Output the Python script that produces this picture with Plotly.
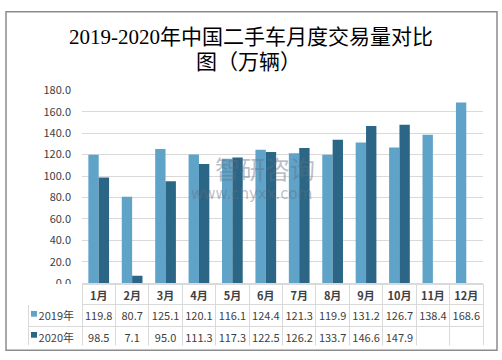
import plotly.graph_objects as go

months = ["1月", "2月", "3月", "4月", "5月", "6月", "7月", "8月", "9月", "10月", "11月", "12月"]
v2019 = [119.8, 80.7, 125.1, 120.1, 116.1, 124.4, 121.3, 119.9, 131.2, 126.7, 138.4, 168.6]
v2020 = [98.5, 7.1, 95.0, 111.3, 117.3, 122.5, 126.2, 133.7, 146.6, 147.9, None, None]
series_names = ["2019年", "2020年"]
yticks = [0, 20, 40, 60, 80, 100, 120, 140, 160, 180]
title_lines = ["2019-2020年中国二手车月度交易量对比", "图（万辆）"]

c2019 = "#5fa3c8"
c2020 = "#2b6686"
W, H = 502, 360

def px_x(x):
    return x / W

def px_y(y):
    return 1 - y / H

fig = go.Figure()
fig.add_trace(go.Bar(x=months, y=v2019, name=series_names[0], marker=dict(color=c2019, line=dict(width=0))))
fig.add_trace(go.Bar(x=months, y=v2020, name=series_names[1], marker=dict(color=c2020, line=dict(width=0))))

def fmt(v):
    return "" if v is None else f"{v:.1f}"

header_vals = [""] + months
cells_vals = [series_names] + [[fmt(a), fmt(b)] for a, b in zip(v2019, v2020)]

TOP, HH, RH = 288, 20, 22
fig.add_trace(go.Table(
    domain=dict(x=[px_x(28), px_x(483)], y=[px_y(TOP + HH + 2 * RH), px_y(TOP)]),
    columnwidth=[54] + [33.4] * 12,
    header=dict(values=header_vals, height=HH, align="center",
                line=dict(color=["white"] + ["#d9d9d9"] * 12, width=1), fill=dict(color="white"),
                font=dict(family="Noto Sans CJK SC", size=11, color="#404040", weight="bold")),
    cells=dict(values=cells_vals, height=RH, align=["right"] + ["center"] * 12,
               line=dict(color="#d9d9d9", width=1), fill=dict(color="white"),
               font=dict(family="Noto Sans CJK SC", size=11, color="#404040")),
))

shapes = [dict(type="rect", xref="paper", yref="paper",
               x0=px_x(6), x1=px_x(497), y0=px_y(357), y1=px_y(3),
               line=dict(color="#8c8c8c", width=1.5), layer="below")]
for i, c in enumerate([c2019, c2020]):
    cy = TOP + HH + RH * i + RH / 2
    shapes.append(dict(type="rect", xref="paper", yref="paper",
                       x0=px_x(31), x1=px_x(37), y0=px_y(cy + 3), y1=px_y(cy - 3),
                       fillcolor=c, line=dict(color=c, width=0), layer="above"))

fig.update_layout(
    width=W, height=H,
    margin=dict(l=0, r=0, t=0, b=0),
    paper_bgcolor="white", plot_bgcolor="white",
    showlegend=False,
    barmode="group", bargap=0.38, bargroupgap=0,
    xaxis=dict(domain=[px_x(82), px_x(483)], showticklabels=False, showline=True,
               linecolor="#d9d9d9", showgrid=False),
    yaxis=dict(domain=[px_y(287), px_y(85)], range=[0, 180], tickvals=yticks,
               ticktext=[f"{t:.1f}" for t in yticks],
               showgrid=True, gridcolor="#d9d9d9", zeroline=False, showline=False,
               ticklabelstandoff=10,
               tickfont=dict(family="Noto Sans CJK SC", size=11, color="#404040")),
    font=dict(family="Noto Sans CJK SC"),
    shapes=shapes,
    annotations=[
        dict(text=title_lines[0], xref="paper", yref="paper", x=px_x(251), y=px_y(29),
             showarrow=False, xanchor="center", yanchor="middle",
             font=dict(size=21, color="black", family="Liberation Serif, Noto Sans CJK SC")),
        dict(text=title_lines[1], xref="paper", yref="paper", x=px_x(248), y=px_y(55),
             showarrow=False, xanchor="center", yanchor="middle",
             font=dict(size=21, color="black", family="Liberation Serif, Noto Sans CJK SC")),
        dict(text="智研咨询", xref="paper", yref="paper", x=px_x(265), y=px_y(166),
             showarrow=False, xanchor="center", yanchor="middle",
             font=dict(size=25, color="rgba(100,110,125,0.45)", family="Noto Sans CJK SC")),
        dict(text="www.chyxx.com", xref="paper", yref="paper", x=px_x(251), y=px_y(194),
             showarrow=False, xanchor="center", yanchor="middle",
             font=dict(size=15, color="rgba(100,110,125,0.45)", family="DejaVu Sans")),
    ],
)

fig.write_html("out.html", config={"displayModeBar": False},
               post_script="document.body.style.margin='0px';")
